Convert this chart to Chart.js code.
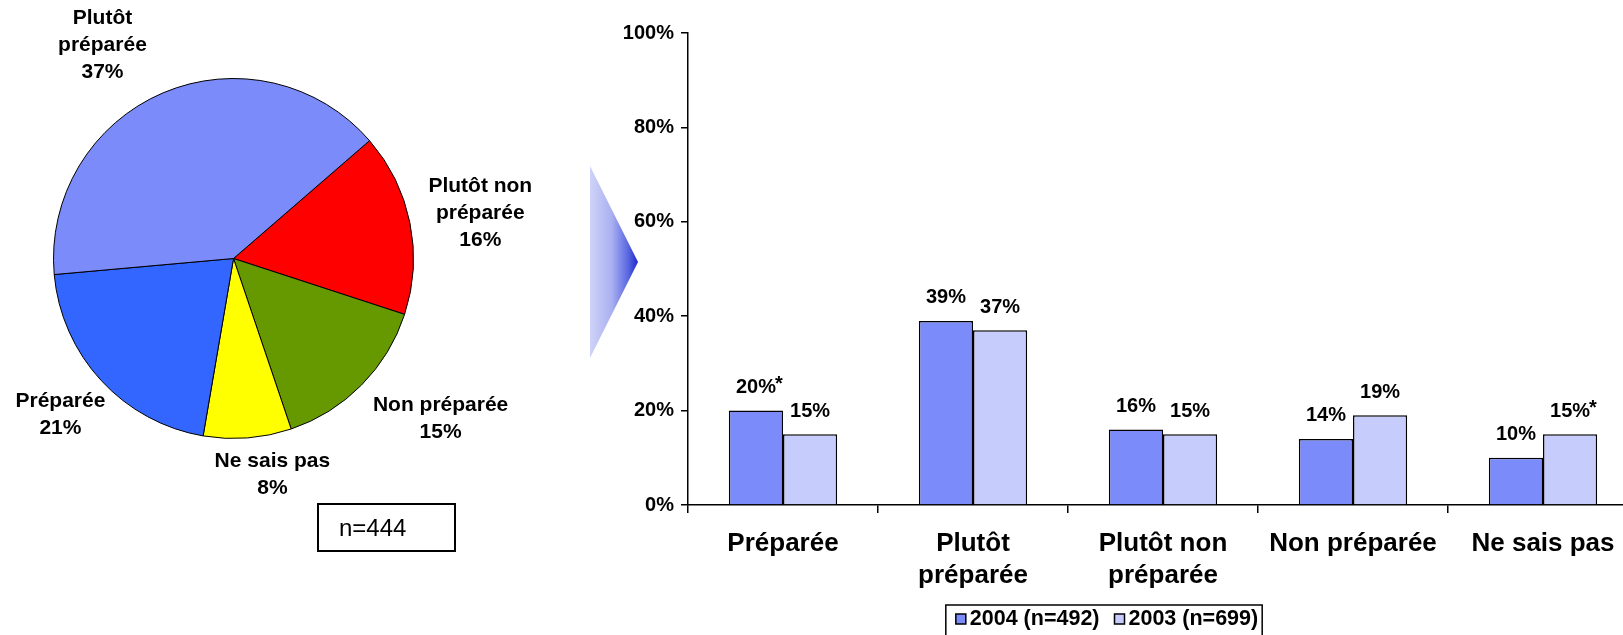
<!DOCTYPE html>
<html><head><meta charset="utf-8">
<script src="https://cdn.jsdelivr.net/npm/chart.js@4.4.1/dist/chart.umd.min.js"></script>
<style>
html,body{margin:0;padding:0;background:#fff;overflow:hidden;width:1623px;height:635px;}
#wrap{position:relative;width:1623px;height:635px;overflow:hidden;font-family:'Liberation Sans',Arial,sans-serif;}
#pieBox{position:absolute;left:0;top:0;width:540px;height:635px;}
#barBox{position:absolute;left:560px;top:0;width:1078px;height:641px;}
#arrow{position:absolute;left:590px;top:166px;width:48px;height:192px;clip-path:polygon(0 0,100% 50%,0 100%);background:linear-gradient(to right,#cfd3f8 0%,#aab1f1 45%,#5866e0 80%,#1a26cc 100%);}
#nbox{position:absolute;left:317px;top:503px;width:139px;height:49px;box-sizing:border-box;border:2px solid #000;font-size:24px;line-height:45px;padding-left:20px;color:#000;}
</style>
</head><body>
<div id="wrap">
  <div id="pieBox"><canvas id="pie"></canvas></div>
  <div id="arrow"></div>
  <div id="barBox"><canvas id="bar"></canvas></div>
  <div id="nbox">n=444</div>
</div>
<script>
// ---- Pie data ----
const pieNameLines = [['Plutôt non','préparée'],['Non préparée'],['Ne sais pas'],['Préparée'],['Plutôt','préparée']];
const pieShares = [16.4, 14.8, 7.9, 20.9, 40.1];   // slice sizes as drawn
const pieLabelPct = [16, 15, 8, 21, 37];           // printed percentages
const pieColors = ['#FF0000', '#669900', '#FFFF00', '#3366FF', '#7B8BF9'];
const pieLabelPlacement = [[1.394, 1.0], [1.456, -6.9], [1.222, -5.7], [1.294, 0.7], [1.389, -8.6]];

// ---- Bar data ----
const barCategories = [['Préparée'], ['Plutôt', 'préparée'], ['Plutôt non', 'préparée'], ['Non préparée'], ['Ne sais pas']];
const series2004 = [20, 39, 16, 14, 10];
const series2003 = [15, 37, 15, 19, 15];
const marks2004 = ['*', '', '', '', ''];
const marks2003 = ['', '', '', '', '*'];
const seriesNames = ['2004 (n=492)', '2003 (n=699)'];
const seriesColors = ['#7B8BF9', '#C6CCFB'];
const yTicks = [0, 20, 40, 60, 80, 100];

const FONT = "'Liberation Sans', Arial, sans-serif";

const pieLabels = {
  id: 'pieLabels',
  afterDatasetsDraw(chart) {
    const meta = chart.getDatasetMeta(0), ctx = chart.ctx;
    ctx.save();
    ctx.font = 'bold 21px ' + FONT;
    ctx.textAlign = 'center'; ctx.textBaseline = 'middle'; ctx.fillStyle = '#000';
    meta.data.forEach((arc, i) => {
      const mid = (arc.startAngle + arc.endAngle) / 2 + pieLabelPlacement[i][1] * Math.PI / 180;
      const d = arc.outerRadius * pieLabelPlacement[i][0];
      const cx = arc.x + Math.cos(mid) * d, cy = arc.y + Math.sin(mid) * d;
      const lines = pieNameLines[i].concat([pieLabelPct[i] + '%']);
      const lh = 27;
      lines.forEach((t, k) => ctx.fillText(t, cx, cy + (k - (lines.length - 1) / 2) * lh));
    });
    ctx.restore();
  }
};

new Chart(document.getElementById('pie'), {
  type: 'pie',
  data: {
    labels: pieNameLines.map(l => l.join(' ')),
    datasets: [{ data: pieShares, backgroundColor: pieColors, borderColor: '#000', borderWidth: 1 }]
  },
  options: {
    responsive: true, maintainAspectRatio: false, animation: false,
    rotation: 49.1,
    layout: { padding: { left: 53, top: 78, right: 126, bottom: 196 } },
    plugins: { legend: { display: false }, tooltip: { enabled: false } }
  },
  plugins: [pieLabels]
});

const barLabels = {
  id: 'barLabels',
  afterDatasetsDraw(chart) {
    const ctx = chart.ctx;
    const marks = [marks2004, marks2003];
    ctx.save();
    ctx.font = 'bold 20px ' + FONT;
    ctx.fillStyle = '#000'; ctx.textBaseline = 'middle';
    chart.data.datasets.forEach((ds, di) => {
      const meta = chart.getDatasetMeta(di);
      meta.data.forEach((bar, i) => {
        const txt = ds.data[i] + '%';
        const y = bar.y - 23;
        ctx.textAlign = 'center';
        ctx.fillText(txt, bar.x, y);
        if (marks[di][i]) {
          const w = ctx.measureText(txt).width;
          ctx.textAlign = 'left';
          ctx.fillText(marks[di][i], bar.x + w / 2 - 1, y - 3);
        }
      });
    });
    ctx.restore();
  }
};

// Framed legend below the x axis labels, drawn from the datasets
const framedLegend = {
  id: 'framedLegend',
  afterDraw(chart) {
    const ctx = chart.ctx, area = chart.chartArea;
    const sw = 10, gapText = 4, gapItem = 15, padL = 10, padR = 4;
    ctx.save();
    ctx.font = 'bold 21.5px ' + FONT;
    const items = chart.data.datasets.map(ds => ({ text: ds.label, fill: ds.backgroundColor, w: ctx.measureText(ds.label).width }));
    const content = items.reduce((s, it) => s + sw + gapText + it.w, 0) + gapItem * (items.length - 1);
    const frameW = content + padL + padR;
    const left = chart.width / 2 + 5 - frameW / 2;
    const top = area.bottom + 100;
    ctx.strokeStyle = '#000'; ctx.lineWidth = 1.5;
    ctx.strokeRect(left, top, frameW, chart.height - top + 10);
    const cy = top + 14;
    let x = left + padL;
    items.forEach(it => {
      ctx.fillStyle = it.fill;
      ctx.fillRect(x, cy - sw / 2, sw, sw);
      ctx.lineWidth = 1.5; ctx.strokeStyle = '#000';
      ctx.strokeRect(x, cy - sw / 2, sw, sw);
      ctx.fillStyle = '#000'; ctx.textAlign = 'left'; ctx.textBaseline = 'middle';
      ctx.fillText(it.text, x + sw + gapText, cy);
      x += sw + gapText + it.w + gapItem;
    });
    ctx.restore();
  }
};

new Chart(document.getElementById('bar'), {
  type: 'bar',
  data: {
    labels: barCategories,
    datasets: [
      { label: seriesNames[0], data: series2004, backgroundColor: seriesColors[0], borderColor: '#000', borderWidth: 1.5, categoryPercentage: 0.57, barPercentage: 1.0 },
      { label: seriesNames[1], data: series2003, backgroundColor: seriesColors[1], borderColor: '#000', borderWidth: 1.5, categoryPercentage: 0.57, barPercentage: 1.0 }
    ]
  },
  options: {
    responsive: true, maintainAspectRatio: false, animation: false,
    layout: { padding: { left: 0, right: 0, top: 33, bottom: 40 } },
    scales: {
      x: {
        grid: { offset: true, drawOnChartArea: false, tickLength: 8, color: '#000', lineWidth: 1.5 },
        border: { color: '#000', width: 1.5 },
        ticks: { color: '#000', font: { family: FONT, size: 26, weight: 'bold', lineHeight: 1.23 }, padding: 14.7, maxRotation: 0, autoSkip: false },
        afterFit(scale) { scale.height = 96; }
      },
      y: {
        min: 0, max: 100,
        afterBuildTicks(scale) { scale.ticks = yTicks.map(v => ({ value: v })); },
        grid: { drawOnChartArea: false, tickLength: 7, color: '#000', lineWidth: 1.5 },
        border: { color: '#000', width: 1.5 },
        ticks: { color: '#000', font: { family: FONT, size: 20, weight: 'bold' }, padding: 7, callback: v => v + '%' },
        afterFit(scale) { scale.width = 128; }
      }
    },
    plugins: {
      legend: { display: false },
      tooltip: { enabled: false }
    }
  },
  plugins: [barLabels, framedLegend]
});
</script>
</body></html>
